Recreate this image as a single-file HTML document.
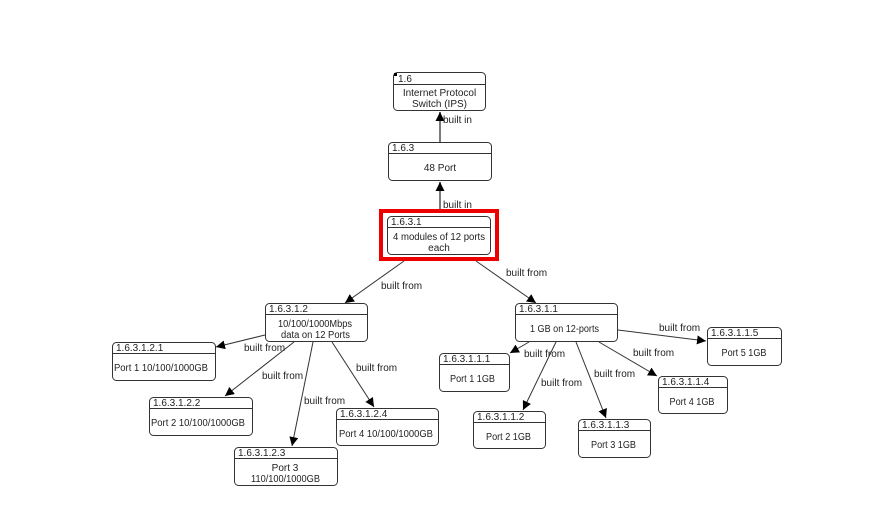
<!DOCTYPE html>
<html><head><meta charset="utf-8"><style>
html,body{margin:0;padding:0;background:#fff;}
svg{display:block;}
text{font-family:"Liberation Sans",sans-serif;font-size:10px;fill:#222;}
.n{fill:#fff;stroke:#333;stroke-width:1;}
.h{stroke:#333;stroke-width:1;}
.e{stroke:#333;stroke-width:1;fill:none;}
.v{stroke:#7a7a7a;stroke-width:2;fill:none;}
</style></head><body>
<svg width="888" height="528" viewBox="0 0 888 528" xmlns="http://www.w3.org/2000/svg">
<defs>
<marker id="a" markerUnits="userSpaceOnUse" markerWidth="10" markerHeight="10" refX="9" refY="4.5" orient="auto">
<path d="M0,0 L9,4.5 L0,9 z" fill="#000"/>
</marker>
</defs>
<rect width="888" height="528" fill="#fff"/>

<!-- edges -->
<line class="v" x1="440" y1="142" x2="440" y2="112" marker-end="url(#a)"/>
<text x="443" y="123">built in</text>
<line class="v" x1="440" y1="209" x2="440" y2="182" marker-end="url(#a)"/>
<text x="443" y="208">built in</text>

<line class="e" x1="404" y1="261" x2="345" y2="303" marker-end="url(#a)"/>
<text x="381" y="289">built from</text>
<line class="e" x1="476" y1="261" x2="536" y2="303" marker-end="url(#a)"/>
<text x="506" y="276">built from</text>

<line class="e" x1="265" y1="335" x2="216" y2="347" marker-end="url(#a)"/>
<text x="244" y="351">built from</text>
<line class="e" x1="294" y1="342" x2="225" y2="396" marker-end="url(#a)"/>
<text x="262" y="379">built from</text>
<line class="e" x1="313" y1="342" x2="292" y2="446" marker-end="url(#a)"/>
<text x="304" y="404">built from</text>
<line class="e" x1="332" y1="342" x2="374" y2="407" marker-end="url(#a)"/>
<text x="356" y="371">built from</text>

<line class="e" x1="529" y1="342" x2="510" y2="353" marker-end="url(#a)"/>
<text x="524" y="357">built from</text>
<line class="e" x1="556" y1="342" x2="523" y2="410" marker-end="url(#a)"/>
<text x="541" y="386">built from</text>
<line class="e" x1="576" y1="342" x2="606" y2="418" marker-end="url(#a)"/>
<text x="594" y="377">built from</text>
<line class="e" x1="599" y1="342" x2="657" y2="376" marker-end="url(#a)"/>
<text x="633" y="356">built from</text>
<line class="e" x1="618" y1="330" x2="706" y2="341" marker-end="url(#a)"/>
<text x="659" y="331">built from</text>

<!-- nodes -->
<!-- 1.6 -->
<rect class="n" x="393.5" y="72.5" width="92" height="38" rx="4"/>
<line class="h" x1="393.5" y1="84.5" x2="485.5" y2="84.5"/>
<rect x="394" y="73" width="3" height="3" fill="#000"/>
<text x="398" y="82">1.6</text>
<text x="439.5" y="96" text-anchor="middle">Internet Protocol</text>
<text x="439.5" y="107" text-anchor="middle">Switch (IPS)</text>

<!-- 1.6.3 -->
<rect class="n" x="388.5" y="142.5" width="103" height="38" rx="4"/>
<line class="h" x1="388.5" y1="153.5" x2="491.5" y2="153.5"/>
<text x="392" y="151">1.6.3</text>
<text x="440" y="171" text-anchor="middle">48 Port</text>

<!-- 1.6.3.1 with red highlight -->
<rect x="381" y="211" width="116" height="48" fill="none" stroke="#ee0000" stroke-width="4"/>
<rect class="n" x="387.5" y="216.5" width="103" height="38" rx="4"/>
<line class="h" x1="387.5" y1="227.5" x2="490.5" y2="227.5"/>
<text x="391" y="225">1.6.3.1</text>
<text x="439" y="240" text-anchor="middle" textLength="92" lengthAdjust="spacingAndGlyphs">4 modules of 12 ports</text>
<text x="439" y="251" text-anchor="middle">each</text>

<!-- 1.6.3.1.2 -->
<rect class="n" x="265.5" y="303.5" width="102" height="38" rx="4"/>
<line class="h" x1="265.5" y1="314.5" x2="367.5" y2="314.5"/>
<text x="269" y="312">1.6.3.1.2</text>
<text x="315" y="327" text-anchor="middle" textLength="74" lengthAdjust="spacingAndGlyphs">10/100/1000Mbps</text>
<text x="315.5" y="338" text-anchor="middle" textLength="69" lengthAdjust="spacingAndGlyphs">data on 12 Ports</text>

<!-- 1.6.3.1.2.1 -->
<rect class="n" x="112.5" y="342.5" width="103" height="38" rx="4"/>
<line class="h" x1="112.5" y1="353.5" x2="215.5" y2="353.5"/>
<text x="116" y="351">1.6.3.1.2.1</text>
<text x="161" y="371" text-anchor="middle" textLength="94" lengthAdjust="spacingAndGlyphs">Port 1 10/100/1000GB</text>

<!-- 1.6.3.1.2.2 -->
<rect class="n" x="149.5" y="397.5" width="103" height="38" rx="4"/>
<line class="h" x1="149.5" y1="408.5" x2="252.5" y2="408.5"/>
<text x="153" y="406">1.6.3.1.2.2</text>
<text x="198" y="426" text-anchor="middle" textLength="94" lengthAdjust="spacingAndGlyphs">Port 2 10/100/1000GB</text>

<!-- 1.6.3.1.2.3 -->
<rect class="n" x="234.5" y="447.5" width="103" height="38" rx="4"/>
<line class="h" x1="234.5" y1="458.5" x2="337.5" y2="458.5"/>
<text x="238" y="456">1.6.3.1.2.3</text>
<text x="285" y="471" text-anchor="middle">Port 3</text>
<text x="285.5" y="482" text-anchor="middle" textLength="69" lengthAdjust="spacingAndGlyphs">110/100/1000GB</text>

<!-- 1.6.3.1.2.4 -->
<rect class="n" x="336.5" y="408.5" width="102" height="37" rx="4"/>
<line class="h" x1="336.5" y1="419.5" x2="438.5" y2="419.5"/>
<text x="340" y="417">1.6.3.1.2.4</text>
<text x="386" y="437" text-anchor="middle" textLength="94" lengthAdjust="spacingAndGlyphs">Port 4 10/100/1000GB</text>

<!-- 1.6.3.1.1 -->
<rect class="n" x="515.5" y="303.5" width="102" height="38" rx="4"/>
<line class="h" x1="515.5" y1="314.5" x2="617.5" y2="314.5"/>
<text x="519" y="312">1.6.3.1.1</text>
<text x="564.5" y="332" text-anchor="middle" textLength="69" lengthAdjust="spacingAndGlyphs">1 GB on 12-ports</text>

<!-- 1.6.3.1.1.1 -->
<rect class="n" x="439.5" y="353.5" width="70" height="38" rx="4"/>
<line class="h" x1="439.5" y1="364.5" x2="509.5" y2="364.5"/>
<text x="443" y="362">1.6.3.1.1.1</text>
<text x="472.5" y="382" text-anchor="middle" textLength="45" lengthAdjust="spacingAndGlyphs">Port 1 1GB</text>

<!-- 1.6.3.1.1.2 -->
<rect class="n" x="473.5" y="411.5" width="72" height="37" rx="4"/>
<line class="h" x1="473.5" y1="422.5" x2="545.5" y2="422.5"/>
<text x="477" y="420">1.6.3.1.1.2</text>
<text x="508.5" y="440" text-anchor="middle" textLength="45" lengthAdjust="spacingAndGlyphs">Port 2 1GB</text>

<!-- 1.6.3.1.1.3 -->
<rect class="n" x="578.5" y="419.5" width="72" height="38" rx="4"/>
<line class="h" x1="578.5" y1="430.5" x2="650.5" y2="430.5"/>
<text x="582" y="428">1.6.3.1.1.3</text>
<text x="613.5" y="448" text-anchor="middle" textLength="45" lengthAdjust="spacingAndGlyphs">Port 3 1GB</text>

<!-- 1.6.3.1.1.4 -->
<rect class="n" x="658.5" y="376.5" width="69" height="37" rx="4"/>
<line class="h" x1="658.5" y1="387.5" x2="727.5" y2="387.5"/>
<text x="662" y="385">1.6.3.1.1.4</text>
<text x="692" y="405" text-anchor="middle" textLength="45" lengthAdjust="spacingAndGlyphs">Port 4 1GB</text>

<!-- 1.6.3.1.1.5 -->
<rect class="n" x="707.5" y="327.5" width="74" height="38" rx="4"/>
<line class="h" x1="707.5" y1="338.5" x2="781.5" y2="338.5"/>
<text x="711" y="336">1.6.3.1.1.5</text>
<text x="744" y="356" text-anchor="middle" textLength="45" lengthAdjust="spacingAndGlyphs">Port 5 1GB</text>
</svg>
</body></html>
